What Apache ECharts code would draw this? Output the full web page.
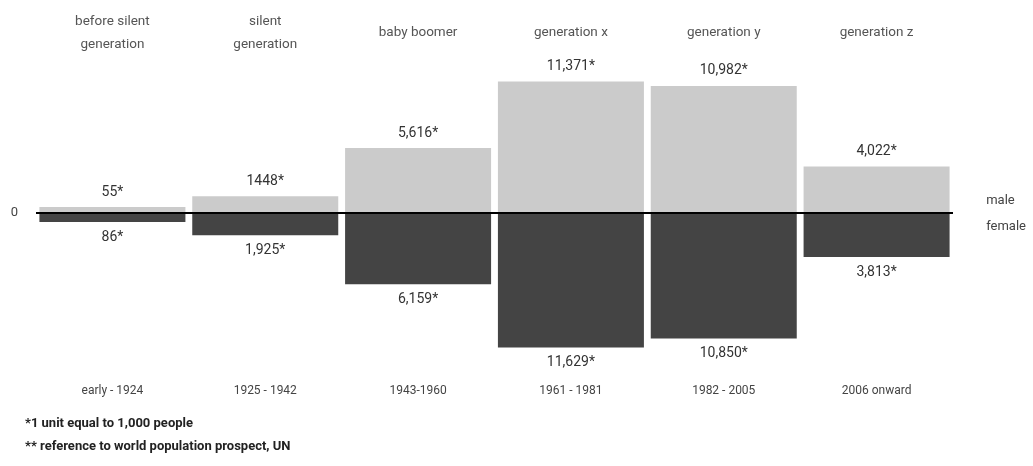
<!DOCTYPE html>
<html>
<head>
<meta charset="utf-8">
<script src="https://cdn.jsdelivr.net/npm/echarts@6/dist/echarts.min.js"></script>
<style>html,body{margin:0;padding:0;background:#fff}#chart{width:1033px;height:466px}</style>
</head>
<body>
<div id="chart"></div>
<script>
var generations = ['before silent\ngeneration', 'silent\ngeneration', 'baby boomer', 'generation x', 'generation y', 'generation z'];
var yearRanges = ['early - 1924', '1925 - 1942', '1943-1960', '1961 - 1981', '1982 - 2005', '2006 onward'];
var maleValues = [55, 1448, 5616, 11371, 10982, 4022];
var femaleValues = [86, 1925, 6159, 11629, 10850, 3813];
var maleLabels = ['55*', '1448*', '5,616*', '11,371*', '10,982*', '4,022*'];
var femaleLabels = ['86*', '1,925*', '6,159*', '11,629*', '10,850*', '3,813*'];
var footnotes = ['*1 unit equal to 1,000 people', '** reference to world population prospect, UN'];

var FONT = 'Roboto';
var chart = echarts.init(document.getElementById('chart'), null, {renderer: 'canvas'});
chart.setOption({
  animation: false,
  textStyle: {fontFamily: FONT},
  title: {
    text: footnotes.join('\n'),
    left: 20, top: 407,
    textStyle: {fontFamily: FONT, fontSize: 13, fontWeight: 'bold', color: '#222', lineHeight: 23}
  },
  legend: {
    data: ['male', 'female'],
    orient: 'vertical',
    right: 2, top: 189,
    icon: 'rect', itemWidth: 0, itemHeight: 0, itemGap: 13,
    selectedMode: false,
    textStyle: {fontFamily: FONT, fontSize: 13, color: '#444'}
  },
  grid: {left: 36, right: 80, top: 51, bottom: 91, containLabel: false},
  xAxis: [{
    type: 'category', position: 'bottom', data: yearRanges,
    axisLine: {show: false}, axisTick: {show: false},
    axisLabel: {margin: 10, fontSize: 12, color: '#444', fontFamily: FONT}
  }, {
    type: 'category', position: 'top', data: generations,
    axisLine: {show: false}, axisTick: {show: false},
    axisLabel: {margin: 18, fontSize: 13.5, color: '#555', fontFamily: FONT, verticalAlign: 'middle', lineHeight: 23}
  }],
  yAxis: {
    type: 'value', min: -14000, max: 14000, interval: 14000,
    axisLine: {show: false}, axisTick: {show: false}, splitLine: {show: false},
    axisLabel: {margin: 18, fontSize: 13, color: '#444', fontFamily: FONT,
      formatter: function (v) { return v === 0 ? '0' : ''; }}
  },
  series: [{
    name: 'male', type: 'bar', stack: 'g', data: maleValues,
    barWidth: 146, barMinHeight: 6,
    itemStyle: {color: '#cbcbcb'},
    label: {show: true, position: 'top', distance: 8, fontSize: 14, color: '#333', fontFamily: FONT,
      formatter: function (p) { return maleLabels[p.dataIndex]; }},
    markLine: {
      silent: true, symbol: 'none', label: {show: false},
      lineStyle: {color: '#000', width: 2, type: 'solid'},
      data: [{yAxis: 0}]
    },
    z: 2
  }, {
    name: 'female', type: 'bar', stack: 'g',
    data: femaleValues.map(function (v) { return -v; }),
    barWidth: 146, barMinHeight: 9,
    itemStyle: {color: '#444444'},
    label: {show: true, position: 'bottom', distance: 8, fontSize: 14, color: '#333', fontFamily: FONT,
      formatter: function (p) { return femaleLabels[p.dataIndex]; }},
    z: 2
  }]
});
</script>
</body>
</html>
